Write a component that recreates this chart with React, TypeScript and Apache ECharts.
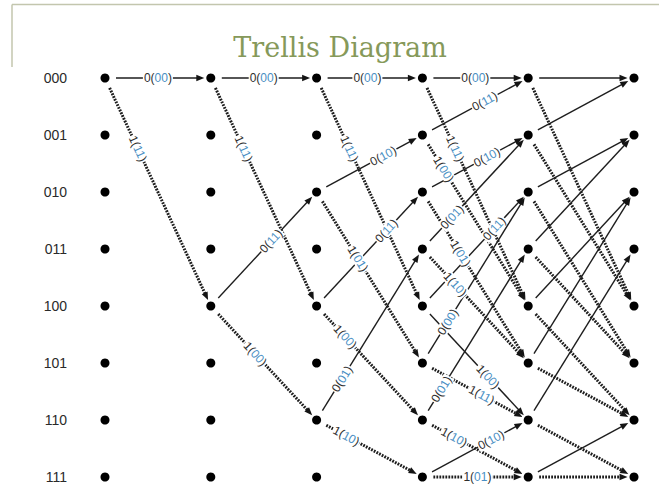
import { useEffect, useRef } from "react";
import * as echarts from "echarts";

// Trellis states (rows) and time stages (columns)
const states = ["000", "001", "010", "011", "100", "101", "110", "111"];
const stages = [0, 1, 2, 3, 4, 5];

// Transitions per stage: [from state, to state, input bit, output bits]
const stage0Edges = [
  ["000", "000", "0", "00"],
  ["000", "100", "1", "11"],
];
const stage1Edges = [
  ["000", "000", "0", "00"],
  ["000", "100", "1", "11"],
  ["100", "010", "0", "11"],
  ["100", "110", "1", "00"],
];
const stage2Edges = [
  ["000", "000", "0", "00"],
  ["000", "100", "1", "11"],
  ["010", "001", "0", "10"],
  ["010", "101", "1", "01"],
  ["100", "010", "0", "11"],
  ["100", "110", "1", "00"],
  ["110", "011", "0", "01"],
  ["110", "111", "1", "10"],
];
const stage3Edges = [
  ["000", "000", "0", "00"],
  ["000", "100", "1", "11"],
  ["001", "000", "0", "11"],
  ["001", "100", "1", "00"],
  ["010", "001", "0", "10"],
  ["010", "101", "1", "01"],
  ["011", "001", "0", "01"],
  ["011", "101", "1", "10"],
  ["100", "010", "0", "11"],
  ["100", "110", "1", "00"],
  ["101", "010", "0", "00"],
  ["101", "110", "1", "11"],
  ["110", "011", "0", "01"],
  ["110", "111", "1", "10"],
  ["111", "110", "0", "10"],
  ["111", "111", "1", "01"],
];
const stage4Edges = [
  ["000", "000", "0", ""],
  ["000", "100", "1", ""],
  ["001", "000", "0", ""],
  ["001", "100", "1", ""],
  ["010", "001", "0", ""],
  ["010", "101", "1", ""],
  ["011", "001", "0", ""],
  ["011", "101", "1", ""],
  ["100", "010", "0", ""],
  ["100", "110", "1", ""],
  ["101", "010", "0", ""],
  ["101", "110", "1", ""],
  ["110", "011", "0", ""],
  ["110", "111", "1", ""],
  ["111", "110", "0", ""],
  ["111", "111", "1", ""],
];
const allStageEdges = [stage0Edges, stage1Edges, stage2Edges, stage3Edges, stage4Edges];

// Line style per edge (1 = dotted, 0 = solid)
const stageDotted = [
  [0, 1],
  [0, 1, 0, 1],
  [0, 1, 0, 1, 0, 1, 0, 1],
  [0, 1, 0, 1, 0, 1, 0, 1, 0, 0, 0, 1, 0, 1, 0, 1],
  [0, 1, 0, 1, 0, 1, 0, 1, 0, 1, 0, 1, 0, 1, 0, 1],
];
// Label placement (fraction along the edge)
const stageLabelAt = [
  [0.5, 0.31],
  [0.5, 0.31, 0.57, 0.42],
  [0.48, 0.31, 0.63, 0.39, 0.66, 0.27, 0.24, 0.28],
  [0.5, 0.31, 0.59, 0.2, 0.61, 0.36, 0.28, 0.31, 0.68, 0.62, 0.24, 0.56, 0.18, 0.3, 0.65, 0.52],
  [0, 0, 0, 0, 0, 0, 0, 0, 0, 0, 0, 0, 0, 0, 0, 0],
];

export default function App() {
  const ref = useRef<HTMLDivElement>(null);

  useEffect(() => {
    if (!ref.current) return;
    const chart = echarts.init(ref.current, null, { renderer: "svg" });

    const edges: any[] = [];
    allStageEdges.forEach((list, s) =>
      list.forEach((e, k) =>
        edges.push({
          s,
          from: states.indexOf(e[0]),
          to: states.indexOf(e[1]),
          input: e[2],
          output: e[3],
          dotted: stageDotted[s][k] === 1,
          t: stageLabelAt[s][k],
        })
      )
    );
    const edgeData = edges.map((e) => [e.s, e.from, e.s + 1, e.to]);
    const nodeData: number[][] = [];
    stages.forEach((s) => states.forEach((_, i) => nodeData.push([s, i])));

    const START = 11;
    const END = 6.5;
    const HEAD = 8;
    const HW = 3.2;

    const geom = (api: any) => {
      const a = api.coord([api.value(0), api.value(1)]);
      const b = api.coord([api.value(2), api.value(3)]);
      const dx = b[0] - a[0];
      const dy = b[1] - a[1];
      const len = Math.hypot(dx, dy);
      return { a, b, dx, dy, len, ux: dx / len, uy: dy / len };
    };

    const sans = '"Liberation Sans", Arial, sans-serif';

    chart.setOption({
      animation: false,
      grid: { left: 105, right: 25, top: 78, bottom: 7 },
      xAxis: {
        type: "value",
        min: 0,
        max: 5,
        show: false,
      },
      yAxis: {
        type: "value",
        min: 0,
        max: 7,
        interval: 1,
        inverse: true,
        axisLine: { show: false },
        axisTick: { show: false },
        splitLine: { show: false },
        axisLabel: {
          margin: 38,
          color: "#2a2a2a",
          fontSize: 14,
          fontFamily: sans,
          formatter: (v: number) => states[v] ?? "",
        },
      },
      graphic: [
        {
          type: "line",
          shape: { x1: 12, y1: 4.5, x2: 659, y2: 4.5 },
          style: { stroke: "#c3c6ae", lineWidth: 1.5 },
        },
        {
          type: "line",
          shape: { x1: 12, y1: 4.5, x2: 12, y2: 67 },
          style: { stroke: "#c3c6ae", lineWidth: 1.5 },
        },
        {
          type: "text",
          x: 340,
          y: 47,
          style: {
            text: "Trellis Diagram",
            font: '27px "DejaVu Serif", "Liberation Serif", serif',
            fill: "#86995a",
            align: "center",
            verticalAlign: "middle",
          },
        },
      ],
      series: [
        {
          type: "custom",
          z: 2,
          encode: { x: [0, 2], y: [1, 3] },
          data: edgeData,
          renderItem: (params: any, api: any) => {
            const e = edges[params.dataIndex];
            const g = geom(api);
            const nx = -g.uy;
            const ny = g.ux;
            const sx = g.a[0] + g.ux * START;
            const sy = g.a[1] + g.uy * START;
            const tx = g.b[0] - g.ux * END;
            const ty = g.b[1] - g.uy * END;
            const bx = tx - g.ux * HEAD;
            const by = ty - g.uy * HEAD;
            return {
              type: "group",
              children: [
                {
                  type: "line",
                  shape: { x1: sx, y1: sy, x2: bx + g.ux * 1.5, y2: by + g.uy * 1.5 },
                  style: {
                    stroke: "#1e1e1e",
                    lineWidth: e.dotted ? 3 : 1.4,
                    lineDash: e.dotted ? [1.8, 1.2] : null,
                    fill: null,
                  },
                },
                {
                  type: "polygon",
                  shape: {
                    points: [
                      [tx, ty],
                      [bx + nx * HW, by + ny * HW],
                      [bx - nx * HW, by - ny * HW],
                    ],
                  },
                  style: { fill: "#141414" },
                },
              ],
            };
          },
        },
        {
          type: "custom",
          z: 3,
          encode: { x: [0, 2], y: [1, 3] },
          data: edgeData,
          renderItem: (params: any, api: any) => {
            const e = edges[params.dataIndex];
            if (!e.output) return null;
            const g = geom(api);
            const px = g.a[0] + g.dx * e.t;
            const py = g.a[1] + g.dy * e.t;
            const ang = Math.atan2(g.dy, g.dx);
            return {
              type: "text",
              x: px,
              y: py,
              rotation: -ang,
              style: {
                text: `{d|${e.input}(}{b|${e.output}}{d|)}`,
                font: "12px " + sans,
                rich: {
                  d: { fill: "#2e2e2e", fontSize: 12, fontFamily: sans },
                  b: { fill: "#4a8fc4", fontSize: 12, fontFamily: sans },
                },
                align: "center",
                verticalAlign: "middle",
                backgroundColor: "#fff",
                padding: [0, 1],
              },
            };
          },
        },
        {
          type: "scatter",
          z: 4,
          symbol: "circle",
          symbolSize: 9,
          itemStyle: { color: "#000", opacity: 1 },
          data: nodeData,
          silent: true,
        },
      ],
    });

    return () => chart.dispose();
  }, []);

  return (
    <div
      ref={ref}
      style={{ position: "fixed", left: 0, top: 0, width: 659, height: 484, background: "#fff" }}
    />
  );
}
